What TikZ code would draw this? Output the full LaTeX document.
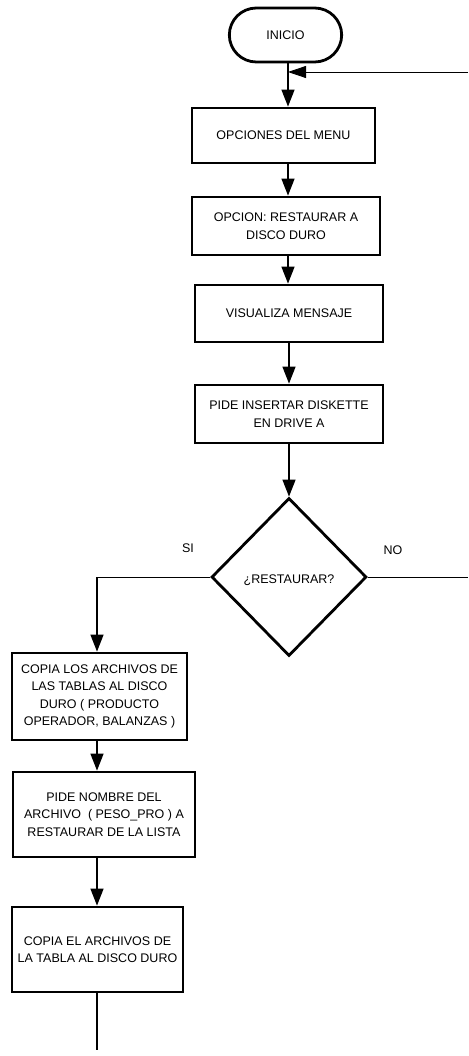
\documentclass[tikz,border=0pt]{standalone}
\usepackage{fontspec}
\setmainfont{Liberation Sans}
\usetikzlibrary{arrows.meta,shapes.geometric,shapes.misc}

\begin{document}
\begin{tikzpicture}[x=1pt,y=-1pt,
  every node/.style={font=\fontsize{12.5}{17.5}\selectfont},
  procbox/.style={draw,line width=2.8pt,rectangle,align=center,inner sep=2pt},
  termbox/.style={draw,line width=2.8pt,rounded rectangle,minimum width=119pt,minimum height=54pt},
  decbox/.style={draw,line width=2.8pt,diamond,minimum width=155pt,minimum height=158pt,inner sep=0pt},
  flow/.style={line width=1.4pt,-{Triangle[length=17pt,width=13pt]}},
  plain/.style={line width=1.4pt},
  thin/.style={line width=0.8pt}
]
\useasboundingbox (0,0) rectangle (468,1056);
\fill[white] (0,0) rectangle (468,1056);

% column guides
\coordinate (mx) at (288,0);
\coordinate (lx) at (97,0);

% main column
\node[termbox] (inicio) at (285.5,35) {INICIO};
\node[procbox,minimum width=183pt,minimum height=55pt] (menu) at (283.5,135.5) {OPCIONES DEL MENU};
\node[procbox,minimum width=188pt,minimum height=58pt] (opcion) at (286,226) {OPCION: RESTAURAR A\\DISCO DURO};
\node[procbox,minimum width=188pt,minimum height=57pt] (mensaje) at (289,313.5) {VISUALIZA MENSAJE};
\node[procbox,minimum width=188pt,minimum height=58pt] (diskette) at (289,414) {PIDE INSERTAR DISKETTE\\EN DRIVE A};
\node[decbox] (restaurar) at (289,577) {};
\node at (289,580) {¿RESTAURAR?};

% left column
\node[procbox,minimum width=175pt,minimum height=87pt] (copiatablas) at (99.5,696.5)
  {COPIA LOS ARCHIVOS DE\\LAS TABLAS AL DISCO\\DURO ( PRODUCTO\\OPERADOR, BALANZAS )};
\node[procbox,minimum width=182pt,minimum height=85pt] (nombre) at (104,814.5)
  {PIDE NOMBRE DEL\\ARCHIVO \ ( PESO\_PRO ) A\\RESTAURAR DE LA LISTA};
\node[procbox,minimum width=171pt,minimum height=85pt] (copiatabla) at (97.5,949.5)
  {COPIA EL ARCHIVOS DE\\LA TABLA AL DISCO DURO};

% branch labels
\node (si) at (188,548) {SI};
\node (no) at (393,550) {NO};

% loose ends
\coordinate (retorno) at (468,72);
\coordinate (salidano) at (468,577);
\coordinate (esquina) at (97,577);
\coordinate (fin) at (97,1050);

% connectors
\draw[flow] (inicio.south -| mx) -- (menu.north -| mx);
\draw[thin,-{Triangle[length=18pt,width=12pt]}] (retorno) -- (retorno -| mx);
\draw[flow] (menu.south -| mx) -- (opcion.north -| mx);
\draw[flow] (opcion.south -| mx) -- (mensaje.north -| mx);
\draw[flow] (mensaje.south) -- (diskette.north);
\draw[flow] (diskette.south) -- (restaurar.north);
\draw[thin] (restaurar.west) -- (esquina);
\draw[flow] (esquina) -- (copiatablas.north -| lx);
\draw[thin] (restaurar.east) -- (salidano);
\draw[flow] (copiatablas.south -| lx) -- (nombre.north -| lx);
\draw[flow] (nombre.south -| lx) -- (copiatabla.north -| lx);
\draw[plain] (copiatabla.south -| lx) -- (fin);
\end{tikzpicture}
\end{document}
